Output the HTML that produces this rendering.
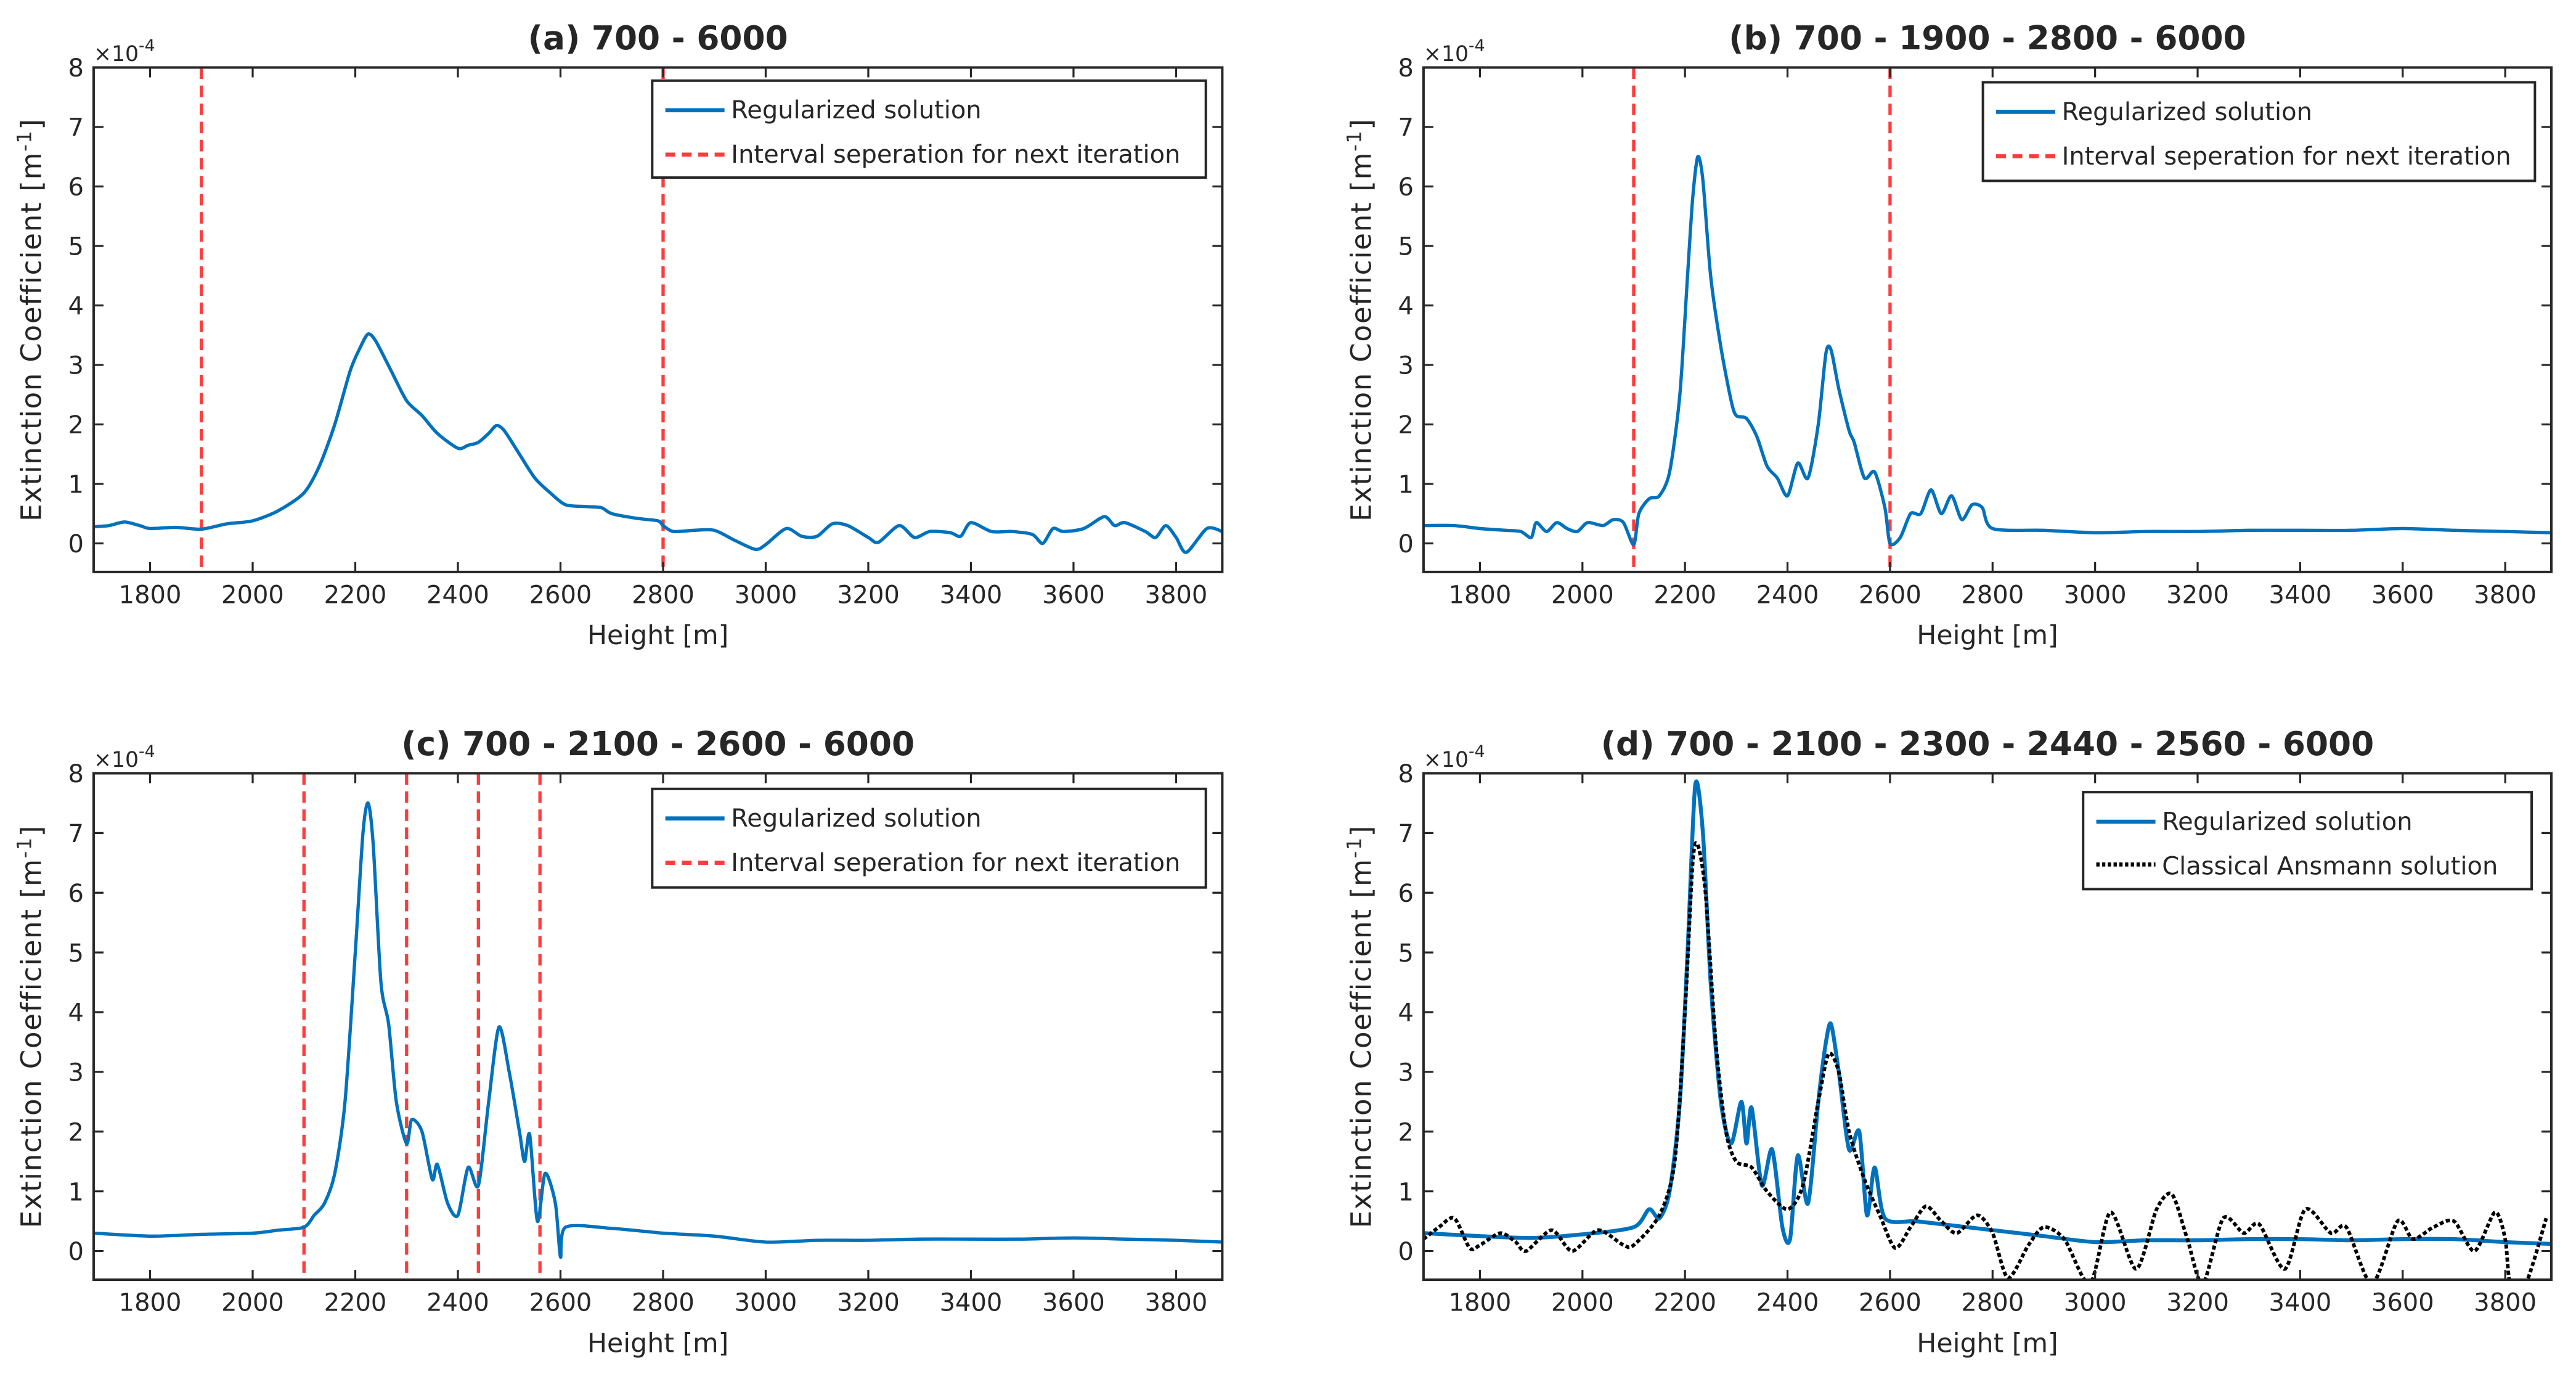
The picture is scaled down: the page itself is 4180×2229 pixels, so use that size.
<!DOCTYPE html>
<html><head><meta charset="utf-8"><style>
html,body{margin:0;padding:0;background:#fff}
svg{display:block}
text{font-family:"DejaVu Sans","Liberation Sans",sans-serif;fill:#262626}
</style></head><body>
<svg id="fig" width="4180" height="2229" viewBox="0 0 1568 836" xmlns="http://www.w3.org/2000/svg"></svg>
<script>
const xTicks=[1800,2000,2200,2400,2600,2800,3000,3200,3400,3600,3800];
const yTicks=[0,1,2,3,4,5,6,7,8];
const aX=[1690,1720,1750,1780,1800,1850,1900,1950,2000,2050,2100,2130,2160,2190,2210,2225,2240,2270,2300,2330,2360,2400,2420,2440,2460,2475,2490,2520,2550,2580,2610,2650,2680,2700,2750,2790,2800,2820,2860,2900,2940,2980,3000,3040,3070,3100,3130,3160,3200,3220,3260,3290,3320,3360,3380,3400,3440,3480,3520,3540,3560,3580,3620,3660,3680,3700,3740,3760,3780,3800,3820,3860,3890];
const aY=[.28,.3,.36,.3,.25,.27,.24,.33,.38,.55,.85,1.3,2.0,2.9,3.3,3.52,3.4,2.9,2.4,2.15,1.85,1.6,1.65,1.7,1.85,1.98,1.9,1.5,1.1,.85,.65,.62,.6,.5,.42,.38,.3,.2,.22,.22,.05,-.1,-.02,.25,.12,.12,.33,.3,.1,.02,.3,.1,.2,.18,.12,.35,.2,.2,.15,0,.25,.2,.25,.45,.3,.35,.2,.1,.3,.1,-.15,.25,.2];
const bX=[1690,1750,1800,1850,1880,1900,1910,1930,1950,1970,1990,2010,2040,2060,2080,2100,2110,2130,2150,2170,2190,2205,2215,2225,2235,2250,2270,2290,2300,2320,2340,2360,2380,2400,2420,2440,2460,2475,2485,2500,2520,2530,2550,2570,2590,2600,2620,2640,2660,2680,2700,2720,2740,2760,2780,2800,2900,3000,3100,3200,3300,3400,3500,3600,3700,3800,3890];
const bY=[.3,.3,.25,.22,.2,.1,.35,.2,.35,.25,.2,.35,.3,.4,.35,-.02,.5,.75,.8,1.2,2.5,4.5,5.8,6.5,6.1,4.5,3.3,2.4,2.15,2.1,1.8,1.3,1.1,.8,1.35,1.1,2.0,3.2,3.25,2.6,1.9,1.7,1.1,1.2,.6,0,.1,.5,.5,.9,.5,.8,.4,.65,.6,.25,.22,.18,.2,.2,.22,.22,.22,.25,.22,.2,.18];
const cX=[1690,1800,1900,2000,2050,2100,2120,2140,2160,2180,2200,2215,2225,2235,2250,2265,2280,2300,2310,2330,2350,2360,2380,2400,2420,2440,2460,2480,2500,2520,2530,2540,2555,2570,2590,2600,2610,2700,2800,2900,3000,3100,3200,3300,3400,3500,3600,3700,3800,3890];
const cY=[.3,.25,.28,.3,.35,.4,.6,.8,1.3,2.5,5.0,7.0,7.5,6.8,4.5,3.8,2.5,1.8,2.2,2.0,1.2,1.45,.8,.6,1.4,1.1,2.5,3.75,3.0,2.0,1.5,1.95,.5,1.3,.8,-.1,.4,.38,.3,.25,.15,.18,.18,.2,.2,.2,.22,.2,.18,.15];
const dX=[1690,1800,1900,2000,2100,2130,2150,2170,2190,2205,2220,2235,2250,2270,2290,2310,2320,2330,2350,2370,2390,2405,2420,2440,2460,2475,2485,2500,2520,2540,2555,2570,2590,2650,2700,2800,2900,3000,3100,3200,3300,3400,3500,3600,3700,3800,3890];
const dY=[.3,.25,.22,.28,.4,.7,.55,1.0,2.5,5.0,7.8,7.0,4.5,2.5,1.8,2.5,1.8,2.4,1.1,1.7,.4,.2,1.6,.8,2.5,3.5,3.8,3.0,1.7,2.0,.6,1.4,.55,.5,.45,.35,.25,.15,.18,.18,.2,.2,.18,.2,.2,.15,.12];
const ansX=[1690,1720,1750,1780,1800,1840,1870,1890,1940,1980,2030,2080,2100,2150,2180,2200,2215,2225,2240,2260,2280,2300,2330,2360,2400,2430,2460,2480,2500,2520,2550,2580,2610,2640,2670,2700,2730,2770,2800,2830,2870,2900,2940,2990,3030,3080,3120,3150,3180,3210,3250,3290,3320,3370,3410,3460,3490,3540,3590,3620,3660,3700,3740,3780,3800,3810,3840,3880];
const ansY=[.2,.4,.55,.05,.1,.3,.15,0,.35,0,.35,.1,.1,.6,1.5,4.0,6.5,6.8,6.0,3.5,2.0,1.5,1.4,1.0,.7,1.1,2.5,3.3,3.0,2.0,1.2,.6,.05,.4,.75,.5,.3,.6,.3,-.45,.1,.4,.2,-.55,.65,-.3,.7,.95,.2,-.55,.55,.3,.45,-.3,.7,.3,.4,-.55,.5,.2,.4,.5,0,.65,.2,-.55,-.55,.55];
const sepA=[1900,2800], sepB=[2100,2600], sepC=[2100,2300,2440,2560];

const NS="http://www.w3.org/2000/svg";
const svg=document.getElementById('fig');
function mk(tag,attrs,parent){const e=document.createElementNS(NS,tag);for(const k in attrs)e.setAttribute(k,attrs[k]);(parent||svg).appendChild(e);return e;}
function smooth(P){let d='M'+P[0][0].toFixed(2)+','+P[0][1].toFixed(2);
 for(let i=0;i<P.length-1;i++){const p0=P[i-1]||P[i],p1=P[i],p2=P[i+1],p3=P[i+2]||P[i+1];const k=1/6*0.8;
  d+=' C'+(p1[0]+(p2[0]-p0[0])*k).toFixed(2)+','+(p1[1]+(p2[1]-p0[1])*k).toFixed(2)+' '+(p2[0]-(p3[0]-p1[0])*k).toFixed(2)+','+(p2[1]-(p3[1]-p1[1])*k).toFixed(2)+' '+p2[0].toFixed(2)+','+p2[1].toFixed(2);}
 return d;}
const XMIN=1690,XMAX=3890,YMIN=-0.48,YMAX=8;
const panels=[
 {id:'a',L:57,R:744,T:41,B:348,title:'(a) 700 - 6000',series:[[aX,aY]],seps:sepA,leg:[397,49,337,59],alt:false},
 {id:'b',L:866.5,R:1553,T:41,B:348,title:'(b) 700 - 1900 - 2800 - 6000',series:[[bX,bY]],seps:sepB,leg:[1207,50,336,60],alt:false},
 {id:'c',L:57,R:744,T:470.5,B:778.7,title:'(c) 700 - 2100 - 2600 - 6000',series:[[cX,cY]],seps:sepC,leg:[397,480,337,60],alt:false},
 {id:'d',L:866.5,R:1553,T:470.5,B:778.7,title:'(d) 700 - 2100 - 2300 - 2440 - 2560 - 6000',series:[[dX,dY]],seps:[],leg:[1268,482,273,59],alt:true}
];
panels.forEach(p=>{
 const g=mk('g',{});
 
 
 const sx=v=>p.L+(v-XMIN)/(XMAX-XMIN)*(p.R-p.L);
 const sy=v=>p.B-(v-YMIN)/(YMAX-YMIN)*(p.B-p.T);
 const cid='clip'+p.id;
 const cp=mk('clipPath',{id:cid},g);mk('rect',{x:p.L,y:p.T,width:p.R-p.L,height:p.B-p.T},cp);
 const plot=mk('g',{'clip-path':'url(#'+cid+')'},g);
 p.seps.forEach(s=>{const l=mk('line',{x1:sx(s),x2:sx(s),y1:p.T,y2:p.B,stroke:'#ff3c3c','stroke-width':2,'stroke-dasharray':'7,4'},plot);
  
  });
 p.series.forEach(([xs,ys])=>{const P=xs.map((x,i)=>[sx(x),sy(ys[i])]);
  const pl=mk('path',{d:smooth(P),fill:'none',stroke:'#0072BD','stroke-width':p.alt?2.4:2,'stroke-linejoin':'round'},plot);
  
  });
 if(p.alt){const P=ansX.map((x,i)=>[sx(x),sy(ansY[i])]);
  const pl=mk('path',{d:smooth(P),fill:'none',stroke:'#000','stroke-width':2.2,'stroke-dasharray':'2.5,1.5'},plot);
  
  }
 const fr=mk('rect',{x:p.L,y:p.T,width:p.R-p.L,height:p.B-p.T,fill:'none',stroke:'#262626','stroke-width':1.5},g);
 
 
 xTicks.forEach(t=>{const x=sx(t);
  mk('line',{x1:x,x2:x,y1:p.B,y2:p.B-6,stroke:'#262626','stroke-width':1.2},g);
  mk('line',{x1:x,x2:x,y1:p.T,y2:p.T+6,stroke:'#262626','stroke-width':1.2},g);
  const tx=mk('text',{x:x,y:p.B+19,'text-anchor':'middle','font-size':15},g);tx.textContent=t;
  
  });
 yTicks.forEach(t=>{const y=sy(t);
  mk('line',{x1:p.L,x2:p.L+6,y1:y,y2:y,stroke:'#262626','stroke-width':1.2},g);
  mk('line',{x1:p.R,x2:p.R-6,y1:y,y2:y,stroke:'#262626','stroke-width':1.2},g);
  const tx=mk('text',{x:p.L-6,y:y+5.5,'text-anchor':'end','font-size':15},g);tx.textContent=t;
  
  });
 const ex=mk('text',{x:p.L,y:p.T-4,'font-size':13,fill:'#555'},g);
 ex.innerHTML='×10<tspan dy="-6" font-size="10">-4</tspan>';
 
 
 const ti=mk('text',{x:(p.L+p.R)/2,y:p.T-11,'text-anchor':'middle','font-size':20,'font-weight':'bold',fill:'#000'},g);ti.textContent=p.title;
 
 
 const xl=mk('text',{x:(p.L+p.R)/2,y:p.B+44,'text-anchor':'middle','font-size':16},g);xl.textContent='Height [m]';
 
 
 const yc=(p.T+p.B)/2;
 const yl=mk('text',{x:0,y:0,'text-anchor':'middle','font-size':17,'letter-spacing':0.6,transform:`translate(${p.L-32},${yc}) rotate(-90)`},g);
 yl.innerHTML='Extinction Coefficient [m<tspan dy="-6" font-size="12">-1</tspan><tspan dy="6">]</tspan>';
 
 
 const [lx,ly,lw,lh]=p.leg;
 const lg=mk('g',{},g);
 
 
 mk('rect',{x:lx,y:ly,width:lw,height:lh,fill:'#fff',stroke:'#262626','stroke-width':1.5},lg);
 mk('line',{x1:lx+8,x2:lx+44,y1:ly+18,y2:ly+18,stroke:'#0072BD','stroke-width':2.5},lg);
 const t1=mk('text',{x:lx+48,y:ly+23,'font-size':15},lg);t1.textContent='Regularized solution';
 
 
 if(p.alt){mk('line',{x1:lx+8,x2:lx+44,y1:ly+44,y2:ly+44,stroke:'#000','stroke-width':2.5,'stroke-dasharray':'2,1.5'},lg);}
 else{mk('line',{x1:lx+8,x2:lx+44,y1:ly+45,y2:ly+45,stroke:'#ff3c3c','stroke-width':2.5,'stroke-dasharray':'6,4'},lg);}
 const t2=mk('text',{x:lx+48,y:ly+50,'font-size':15},lg);t2.textContent=p.alt?'Classical Ansmann solution':'Interval seperation for next iteration';
 
 
});
</script>
</body></html>
